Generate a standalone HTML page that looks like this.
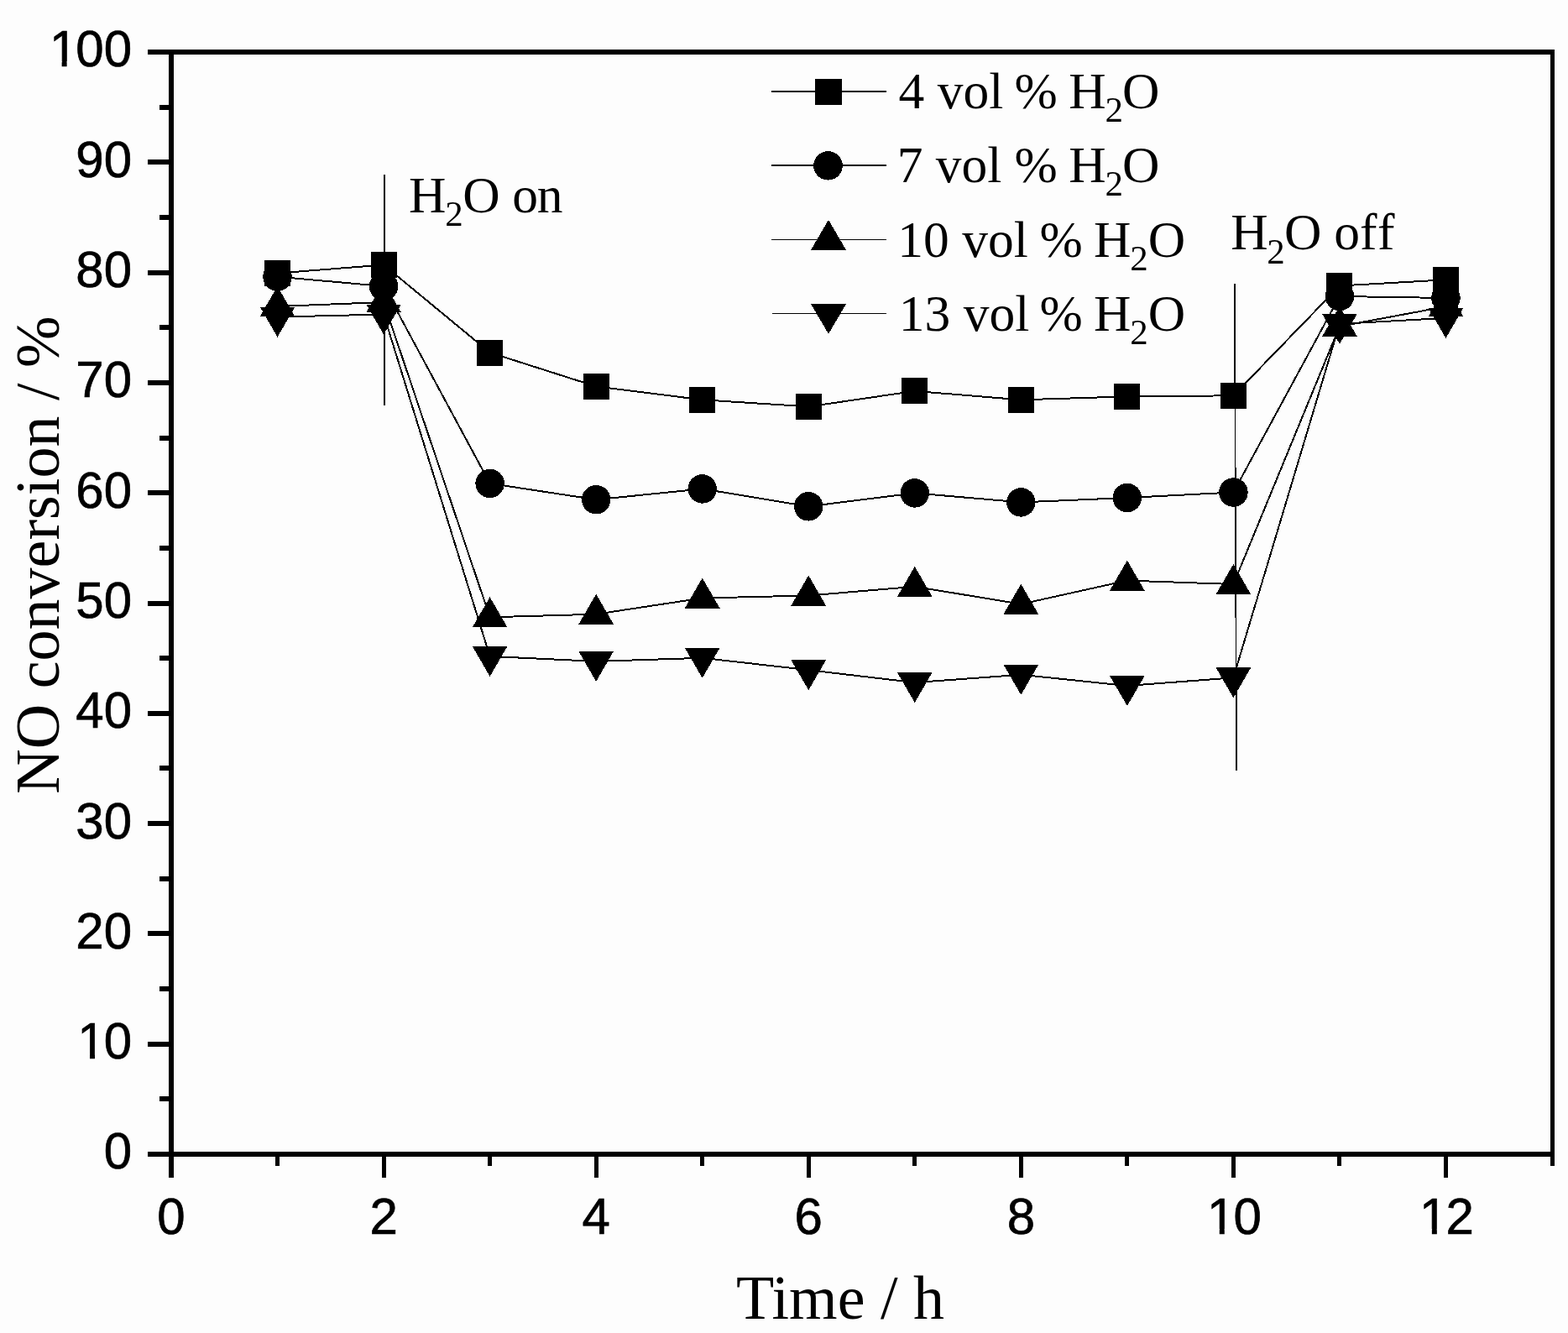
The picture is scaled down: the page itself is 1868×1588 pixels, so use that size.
<!DOCTYPE html>
<html><head><meta charset="utf-8"><title>NO conversion vs time</title>
<style>
html,body{margin:0;padding:0;background:#fdfdfd;}
body{width:1868px;height:1588px;overflow:hidden;}
svg{display:block;}
</style></head><body>
<svg width="1868" height="1588" viewBox="0 0 1868 1588">
<rect width="1868" height="1588" fill="#fdfdfd"/>
<g fill="#000" shape-rendering="crispEdges">
<rect x="176" y="59" width="1676" height="6"/>
<rect x="176" y="1372" width="1676" height="6"/>
<rect x="201" y="59" width="6" height="1344"/>
<rect x="1847" y="59" width="5" height="1330"/>
<rect x="190" y="1306" width="12" height="6"/>
<rect x="176" y="1241" width="26" height="6"/>
<rect x="190" y="1175" width="12" height="6"/>
<rect x="176" y="1109" width="26" height="6"/>
<rect x="190" y="1044" width="12" height="6"/>
<rect x="176" y="978" width="26" height="6"/>
<rect x="190" y="912" width="12" height="6"/>
<rect x="176" y="847" width="26" height="6"/>
<rect x="190" y="781" width="12" height="6"/>
<rect x="176" y="716" width="26" height="6"/>
<rect x="190" y="650" width="12" height="6"/>
<rect x="176" y="584" width="26" height="6"/>
<rect x="190" y="519" width="12" height="6"/>
<rect x="176" y="453" width="26" height="6"/>
<rect x="190" y="387" width="12" height="6"/>
<rect x="176" y="322" width="26" height="6"/>
<rect x="190" y="256" width="12" height="6"/>
<rect x="176" y="190" width="26" height="6"/>
<rect x="190" y="125" width="12" height="6"/>
<rect x="328" y="1377" width="5" height="12"/>
<rect x="455" y="1377" width="5" height="26"/>
<rect x="581" y="1377" width="5" height="12"/>
<rect x="708" y="1377" width="5" height="26"/>
<rect x="834" y="1377" width="5" height="12"/>
<rect x="961" y="1377" width="5" height="26"/>
<rect x="1087" y="1377" width="5" height="12"/>
<rect x="1214" y="1377" width="5" height="26"/>
<rect x="1340" y="1377" width="5" height="12"/>
<rect x="1467" y="1377" width="5" height="26"/>
<rect x="1593" y="1377" width="5" height="12"/>
<rect x="1720" y="1377" width="5" height="26"/>
<rect x="457" y="208" width="2" height="275"/>
</g>
<polygon points="1470,338 1471.6,338 1474,918 1472.2,918" fill="#000" shape-rendering="crispEdges"/>
<g fill="none" stroke="#000" stroke-width="2.0" stroke-linejoin="miter" shape-rendering="crispEdges">
<polyline points="330.54,325.50 457.08,315.50 583.62,420.00 710.16,460.40 836.70,476.30 963.24,484.40 1089.78,465.90 1216.32,476.30 1342.86,472.40 1469.40,471.30 1595.94,340.50 1722.48,333.30"/>
<polyline points="330.54,329.70 457.08,341.00 583.62,575.90 710.16,595.20 836.70,582.40 963.24,603.30 1089.78,587.40 1216.32,598.40 1342.86,593.00 1469.40,586.50 1595.94,353.00 1722.48,355.00"/>
<polyline points="330.54,365.00 457.08,360.00 583.62,735.30 710.16,731.70 836.70,712.50 963.24,709.50 1089.78,698.80 1216.32,719.70 1342.86,691.60 1469.40,696.00 1595.94,388.80 1722.48,365.20"/>
<polyline points="330.54,377.60 457.08,374.50 583.62,781.90 710.16,787.90 836.70,783.80 963.24,798.20 1089.78,813.10 1216.32,803.80 1342.86,817.00 1469.40,807.30 1595.94,385.90 1722.48,378.90"/>
</g>
<g fill="#000" shape-rendering="crispEdges">
<rect x="315.04" y="310.00" width="31.00" height="31.00"/>
<rect x="441.58" y="300.00" width="31.00" height="31.00"/>
<rect x="568.12" y="404.50" width="31.00" height="31.00"/>
<rect x="694.66" y="444.90" width="31.00" height="31.00"/>
<rect x="821.20" y="460.80" width="31.00" height="31.00"/>
<rect x="947.74" y="468.90" width="31.00" height="31.00"/>
<rect x="1074.28" y="450.40" width="31.00" height="31.00"/>
<rect x="1200.82" y="460.80" width="31.00" height="31.00"/>
<rect x="1327.36" y="456.90" width="31.00" height="31.00"/>
<rect x="1453.90" y="455.80" width="31.00" height="31.00"/>
<rect x="1580.44" y="325.00" width="31.00" height="31.00"/>
<rect x="1706.98" y="317.80" width="31.00" height="31.00"/>
<circle cx="330.54" cy="329.70" r="17.25"/>
<circle cx="457.08" cy="341.00" r="17.25"/>
<circle cx="583.62" cy="575.90" r="17.25"/>
<circle cx="710.16" cy="595.20" r="17.25"/>
<circle cx="836.70" cy="582.40" r="17.25"/>
<circle cx="963.24" cy="603.30" r="17.25"/>
<circle cx="1089.78" cy="587.40" r="17.25"/>
<circle cx="1216.32" cy="598.40" r="17.25"/>
<circle cx="1342.86" cy="593.00" r="17.25"/>
<circle cx="1469.40" cy="586.50" r="17.25"/>
<circle cx="1595.94" cy="353.00" r="17.25"/>
<circle cx="1722.48" cy="355.00" r="17.25"/>
<polygon points="330.54,341.00 351.39,377.00 309.69,377.00"/>
<polygon points="457.08,336.00 477.93,372.00 436.23,372.00"/>
<polygon points="583.62,711.30 604.47,747.30 562.77,747.30"/>
<polygon points="710.16,707.70 731.01,743.70 689.31,743.70"/>
<polygon points="836.70,688.50 857.55,724.50 815.85,724.50"/>
<polygon points="963.24,685.50 984.09,721.50 942.39,721.50"/>
<polygon points="1089.78,674.80 1110.63,710.80 1068.93,710.80"/>
<polygon points="1216.32,695.70 1237.17,731.70 1195.47,731.70"/>
<polygon points="1342.86,667.60 1363.71,703.60 1322.01,703.60"/>
<polygon points="1469.40,672.00 1490.25,708.00 1448.55,708.00"/>
<polygon points="1595.94,364.80 1616.79,400.80 1575.09,400.80"/>
<polygon points="1722.48,341.20 1743.33,377.20 1701.63,377.20"/>
<polygon points="309.69,365.60 351.39,365.60 330.54,401.60"/>
<polygon points="436.23,362.50 477.93,362.50 457.08,398.50"/>
<polygon points="562.77,769.90 604.47,769.90 583.62,805.90"/>
<polygon points="689.31,775.90 731.01,775.90 710.16,811.90"/>
<polygon points="815.85,771.80 857.55,771.80 836.70,807.80"/>
<polygon points="942.39,786.20 984.09,786.20 963.24,822.20"/>
<polygon points="1068.93,801.10 1110.63,801.10 1089.78,837.10"/>
<polygon points="1195.47,791.80 1237.17,791.80 1216.32,827.80"/>
<polygon points="1322.01,805.00 1363.71,805.00 1342.86,841.00"/>
<polygon points="1448.55,795.30 1490.25,795.30 1469.40,831.30"/>
<polygon points="1575.09,373.90 1616.79,373.90 1595.94,409.90"/>
<polygon points="1701.63,366.90 1743.33,366.90 1722.48,402.90"/>
</g>
<g stroke="#000" fill="none" shape-rendering="crispEdges">
<line x1="919" y1="109" x2="1056" y2="109" stroke-width="2"/>
<line x1="919" y1="197" x2="1056" y2="197" stroke-width="2"/>
<line x1="919" y1="285.5" x2="1056" y2="285.5" stroke-width="1"/>
<line x1="920" y1="373.5" x2="1056" y2="373.5" stroke-width="1"/>
</g>
<g fill="#000" shape-rendering="crispEdges">
<rect x="971.00" y="94.00" width="32.00" height="31.00"/>
<circle cx="986.50" cy="197.30" r="17.30"/>
<polygon points="987.00,261.77 1008.00,297.97 966.00,297.97"/>
<polygon points="966.00,362.07 1008.00,362.07 987.00,397.87"/>
</g>
<g style="font-family:'Liberation Serif','Times New Roman',serif" font-size="61.5" fill="#000">
<text x="1070.60" y="129.00">4 vol</text>
<text x="1208.50" y="129.00">%</text>
<text x="1273.23" y="129.00">H</text>
<text x="1316.61" y="145.00" font-size="43.0">2</text>
<text x="1336.98" y="129.00">O</text>
<text x="1068.65" y="217.20">7 vol</text>
<text x="1208.50" y="217.20">%</text>
<text x="1273.23" y="217.20">H</text>
<text x="1316.61" y="233.20" font-size="43.0">2</text>
<text x="1336.98" y="217.20">O</text>
<text x="1069.31" y="305.50">10 vol</text>
<text x="1238.60" y="305.50">%</text>
<text x="1303.03" y="305.50">H</text>
<text x="1346.31" y="321.50" font-size="43.0">2</text>
<text x="1367.78" y="305.50">O</text>
<text x="1070.83" y="394.00">13 vol</text>
<text x="1238.60" y="394.00">%</text>
<text x="1303.03" y="394.00">H</text>
<text x="1346.31" y="410.00" font-size="43.0">2</text>
<text x="1367.78" y="394.00">O</text>
<text x="487.03" y="252.80">H</text>
<text x="530.31" y="268.80" font-size="43.0">2</text>
<text x="551.18" y="252.80">O</text>
<text x="610.16" y="252.80">o</text>
<text x="639.69" y="252.80">n</text>
<text x="1466.23" y="296.80">H</text>
<text x="1509.31" y="313.80" font-size="43.0">2</text>
<text x="1529.88" y="296.80">O</text>
<text x="1589.36" y="296.80">o</text>
<text x="1620.01" y="296.80">f</text>
<text x="1641.11" y="296.80">f</text>
</g>
<text style="font-family:'Liberation Serif','Times New Roman',serif" font-size="74" x="1001" y="1571" text-anchor="middle">Time / h</text>
<text style="font-family:'Liberation Serif','Times New Roman',serif" font-size="74" transform="translate(70,661) rotate(-90)" text-anchor="middle">NO conversion / %</text>
<g style="font-family:'Liberation Sans',Arial,sans-serif" font-size="60" fill="#000" stroke="#000" stroke-width="0.7">
<text transform="translate(123.63 1392.40) scale(1 1.032)" x="0.00">0</text>
<text transform="translate(90.26 1261.10) scale(1 1.032)" x="2.00 33.37">10</text>
<text transform="translate(90.26 1129.80) scale(1 1.032)" x="0.00 33.37">20</text>
<text transform="translate(90.26 998.50) scale(1 1.032)" x="0.00 33.37">30</text>
<text transform="translate(90.26 867.20) scale(1 1.032)" x="0.00 33.37">40</text>
<text transform="translate(90.26 735.90) scale(1 1.032)" x="0.00 33.37">50</text>
<text transform="translate(90.26 604.60) scale(1 1.032)" x="0.00 33.37">60</text>
<text transform="translate(90.26 473.30) scale(1 1.032)" x="0.00 33.37">70</text>
<text transform="translate(90.26 342.00) scale(1 1.032)" x="0.00 33.37">80</text>
<text transform="translate(90.26 210.70) scale(1 1.032)" x="0.00 33.37">90</text>
<text transform="translate(56.89 79.40) scale(1 1.032)" x="2.00 33.37 66.74">100</text>
<text transform="translate(187.32 1469.70) scale(1 1.032)" x="0.00">0</text>
<text transform="translate(440.40 1469.70) scale(1 1.032)" x="0.00">2</text>
<text transform="translate(693.48 1469.70) scale(1 1.032)" x="0.00">4</text>
<text transform="translate(946.56 1469.70) scale(1 1.032)" x="0.00">6</text>
<text transform="translate(1199.64 1469.70) scale(1 1.032)" x="0.00">8</text>
<text transform="translate(1436.03 1469.70) scale(1 1.032)" x="2.00 33.37">10</text>
<text transform="translate(1689.11 1469.70) scale(1 1.032)" x="2.00 33.37">12</text>
</g>
<g fill="#fdfdfd">
<rect x="95.63" y="1255" width="11.37" height="7"/>
<rect x="113.00" y="1255" width="10.90" height="7"/>
<rect x="62.26" y="73" width="11.37" height="7"/>
<rect x="79.63" y="73" width="10.90" height="7"/>
<rect x="1441.40" y="1464" width="11.37" height="7"/>
<rect x="1458.77" y="1464" width="10.90" height="7"/>
<rect x="1694.48" y="1464" width="11.37" height="7"/>
<rect x="1711.85" y="1464" width="10.90" height="7"/>
</g>
</svg>
</body></html>
